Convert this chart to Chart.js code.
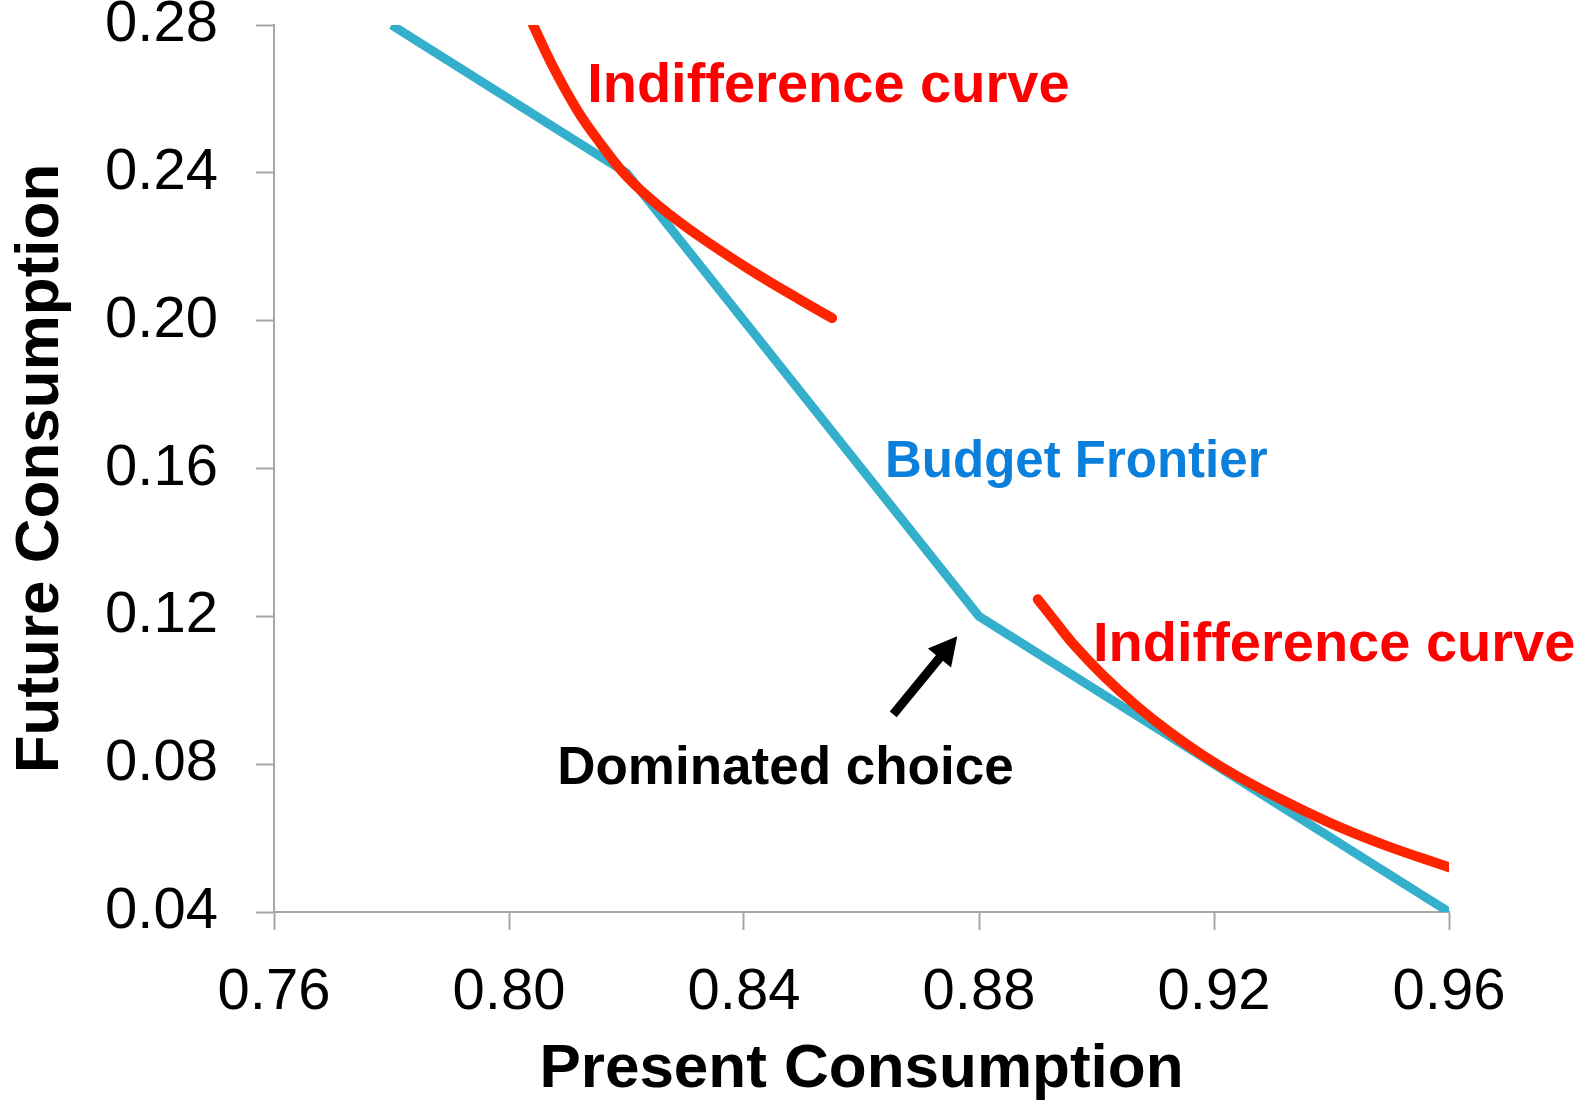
<!DOCTYPE html>
<html>
<head>
<meta charset="utf-8">
<title>Budget Frontier</title>
<style>
  body { margin: 0; background: #fff; }
  canvas { display: block; }
</style>
</head>
<body>
<canvas id="chart" width="1589" height="1101"></canvas>
<script src="https://cdn.jsdelivr.net/npm/chart.js"></script>
<script>
// budget frontier, kinked at 0.82 and 0.88
var budgetX = [0.78, 0.82, 0.88, 0.96];
var budgetY = [0.28, 0.24, 0.12, 0.04];

// upper indifference curve
var curve1X = [0.8041, 0.8075, 0.8116, 0.8155, 0.8201, 0.8257, 0.8325, 0.8410, 0.8495, 0.8550];
var curve1Y = [0.2800, 0.2687, 0.2570, 0.2481, 0.2389, 0.2308, 0.2227, 0.2138, 0.2057, 0.2007];

// lower indifference curve
var curve2X = [0.8900, 0.8927, 0.8961, 0.9012, 0.9068, 0.9125, 0.9182, 0.9239, 0.9324, 0.9409, 0.9494, 0.9600];
var curve2Y = [0.1246, 0.1192, 0.1124, 0.1039, 0.0958, 0.0886, 0.0823, 0.0768, 0.0697, 0.0633, 0.0579, 0.0521];

var xTicks = [0.76, 0.80, 0.84, 0.88, 0.92, 0.96];
var yTicks = [0.04, 0.08, 0.12, 0.16, 0.20, 0.24, 0.28];

var xTitle = 'Present Consumption';
var yTitle = 'Future Consumption';

// text notes, anchored at left / baseline in data units
var notes = [
    { text: 'Indifference curve', x: 0.8133, y: 0.2592, color: '#ff0000', size: 56 },
    { text: 'Budget Frontier', x: 0.8640, y: 0.1578, color: '#0a7fdc', size: 51 },
    { text: 'Indifference curve', x: 0.8994, y: 0.1078, color: '#ff0000', size: 56 },
    { text: 'Dominated choice', x: 0.8082, y: 0.0746, color: '#000000', size: 53 }
];
var arrowFrom = [0.8654, 0.0935];
var arrowTo = [0.8763, 0.1146];

var FONT = "'Liberation Sans', Arial, sans-serif";
var GREY = '#a6a6a6';

function toPoints(xs, ys) {
    return xs.map(function (x, i) { return { x: x, y: ys[i] }; });
}

var annotate = {
    id: 'annotate',
    afterDatasetsDraw: function (chart) {
        var ctx = chart.ctx;
        var sx = chart.scales.x, sy = chart.scales.y;
        ctx.save();

        // arrow pointing at the kink
        var x1 = sx.getPixelForValue(arrowFrom[0]), y1 = sy.getPixelForValue(arrowFrom[1]);
        var x2 = sx.getPixelForValue(arrowTo[0]), y2 = sy.getPixelForValue(arrowTo[1]);
        var len = Math.hypot(x2 - x1, y2 - y1);
        var ux = (x2 - x1) / len, uy = (y2 - y1) / len;
        var head = 28, half = 15;
        var bx = x2 - ux * head, by = y2 - uy * head;
        ctx.strokeStyle = '#000';
        ctx.lineWidth = 9;
        ctx.beginPath();
        ctx.moveTo(x1, y1);
        ctx.lineTo(bx + ux * 2, by + uy * 2);
        ctx.stroke();
        ctx.fillStyle = '#000';
        ctx.beginPath();
        ctx.moveTo(x2, y2);
        ctx.lineTo(bx - uy * half, by + ux * half);
        ctx.lineTo(bx + uy * half, by - ux * half);
        ctx.closePath();
        ctx.fill();

        // labels
        ctx.textAlign = 'left';
        ctx.textBaseline = 'alphabetic';
        notes.forEach(function (n) {
            ctx.font = 'bold ' + n.size + 'px ' + FONT;
            ctx.fillStyle = n.color;
            ctx.fillText(n.text, sx.getPixelForValue(n.x), sy.getPixelForValue(n.y));
        });
        ctx.restore();
    }
};

new Chart(document.getElementById('chart'), {
    type: 'scatter',
    data: {
        datasets: [
            {
                data: toPoints(curve1X, curve1Y),
                borderColor: '#ff2400',
                borderWidth: 10,
                borderCapStyle: 'round',
                borderJoinStyle: 'round',
                tension: 0.4,
                order: 0
            },
            {
                data: toPoints(curve2X, curve2Y),
                borderColor: '#ff2400',
                borderWidth: 10,
                borderCapStyle: 'round',
                borderJoinStyle: 'round',
                tension: 0.4,
                order: 0
            },
            {
                data: toPoints(budgetX, budgetY),
                borderColor: '#35b0cc',
                borderWidth: 9,
                borderJoinStyle: 'miter',
                borderCapStyle: 'butt',
                tension: 0,
                order: 1
            }
        ]
    },
    options: {
        responsive: false,
        animation: false,
        showLine: true,
        clip: 0,
        elements: { point: { radius: 0, hoverRadius: 0 } },
        layout: { padding: { top: 25, right: 140, left: 0, bottom: 0 } },
        plugins: { legend: { display: false }, tooltip: { enabled: false } },
        scales: {
            x: {
                type: 'linear',
                min: 0.76,
                max: 0.96,
                afterBuildTicks: function (s) { s.ticks = xTicks.map(function (v) { return { value: v }; }); },
                afterFit: function (s) { s.height = 189; s.paddingLeft = 0; s.paddingRight = 0; },
                border: { color: GREY, width: 2 },
                grid: { drawOnChartArea: false, tickLength: 18, tickColor: GREY, tickWidth: 2 },
                ticks: {
                    color: '#000',
                    padding: 28,
                    maxRotation: 0,
                    font: { family: FONT, size: 58 },
                    callback: function (v) { return v.toFixed(2); }
                },
                title: {
                    display: true,
                    text: xTitle,
                    color: '#000',
                    padding: { top: 0, bottom: 0 },
                    font: { family: FONT, size: 62, weight: 'bold', lineHeight: 1 }
                }
            },
            y: {
                type: 'linear',
                min: 0.04,
                max: 0.28,
                afterBuildTicks: function (s) { s.ticks = yTicks.map(function (v) { return { value: v }; }); },
                afterFit: function (s) { s.width = 274; s.paddingTop = 0; s.paddingBottom = 0; },
                border: { color: GREY, width: 2 },
                grid: { drawOnChartArea: false, tickLength: 18, tickColor: GREY, tickWidth: 2 },
                ticks: {
                    color: '#000',
                    padding: 38,
                    font: { family: FONT, size: 58 },
                    callback: function (v) { return v.toFixed(2); }
                },
                title: {
                    display: true,
                    text: yTitle,
                    color: '#000',
                    padding: { top: 10, bottom: 0 },
                    font: { family: FONT, size: 62, weight: 'bold', lineHeight: 1 }
                }
            }
        }
    },
    plugins: [annotate]
});
</script>
</body>
</html>
